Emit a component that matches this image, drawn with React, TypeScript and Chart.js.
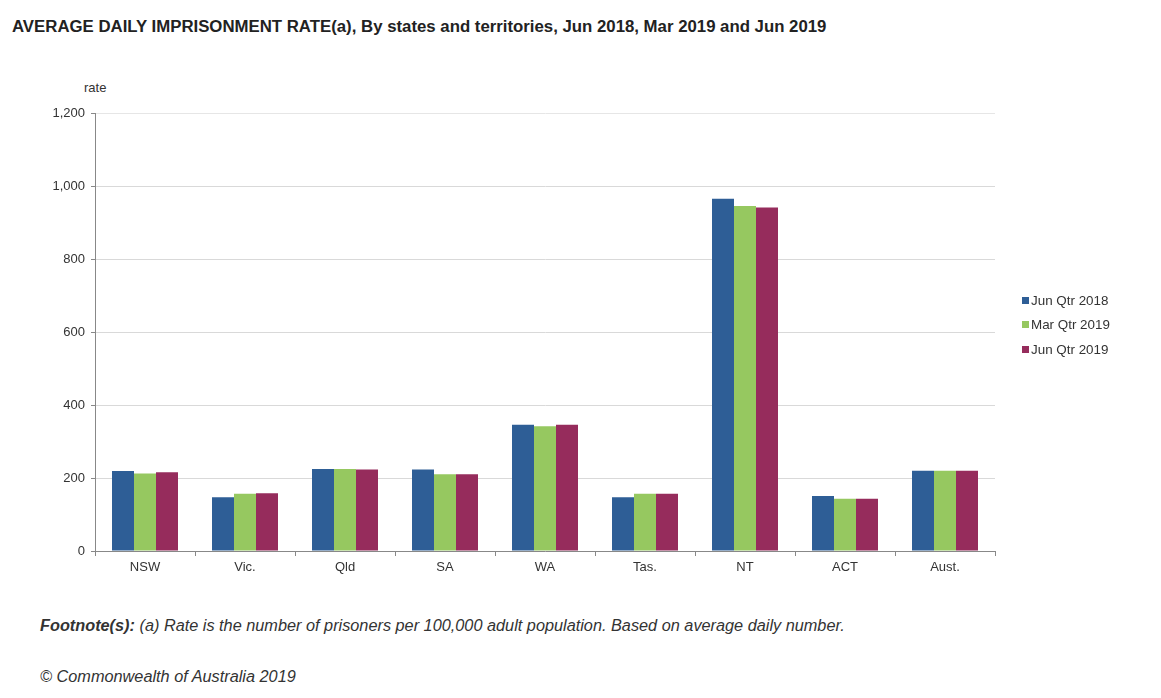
import React, { useEffect, useRef } from "react";
import { Chart, registerables } from "chart.js";

Chart.register(...registerables);

const categories = ["NSW", "Vic.", "Qld", "SA", "WA", "Tas.", "NT", "ACT", "Aust."];
const seriesNames = ["Jun Qtr 2018", "Mar Qtr 2019", "Jun Qtr 2019"];
const jun2018 = [219, 147, 225, 223, 346, 147, 965, 151, 220];
const mar2019 = [212, 157, 225, 210, 342, 157, 945, 143, 220];
const jun2019 = [216, 158, 223, 210, 346, 157, 941, 143, 220];
const seriesColors = ["#2E5E96", "#96C860", "#962C5C"];
const yTicks = [0, 200, 400, 600, 800, 1000, 1200];

const FONT = "'Liberation Sans', Arial, sans-serif";
const TEXT = "#333333";

export default function App() {
  const canvasRef = useRef<HTMLCanvasElement | null>(null);

  useEffect(() => {
    const canvas = canvasRef.current;
    if (!canvas) return;
    const values = [jun2018, mar2019, jun2019];
    const chart = new Chart(canvas, {
      type: "bar",
      data: {
        labels: categories,
        datasets: seriesNames.map((name, i) => ({
          label: name,
          data: values[i],
          backgroundColor: seriesColors[i],
          borderWidth: 0,
          categoryPercentage: 0.66,
          barPercentage: 1.0,
        })),
      },
      options: {
        animation: false,
        responsive: false,
        maintainAspectRatio: false,
        layout: { padding: { left: 0, top: 113, right: 166, bottom: 0 } },
        plugins: {
          legend: { display: false },
          tooltip: { enabled: false },
          title: { display: false },
        },
        scales: {
          x: {
            afterFit: (scale: any) => {
              scale.height = 49;
            },
            grid: {
              offset: true,
              drawOnChartArea: false,
              drawTicks: true,
              tickLength: 5,
              color: "#888888",
            },
            border: { color: "#888888", width: 1 },
            ticks: {
              color: TEXT,
              font: { family: FONT, size: 13 },
              padding: 4,
              maxRotation: 0,
            },
          },
          y: {
            min: 0,
            max: 1200,
            afterFit: (scale: any) => {
              scale.width = 95;
            },
            afterBuildTicks: (scale: any) => {
              scale.ticks = yTicks.map((v) => ({ value: v }));
            },
            grid: {
              color: (ctx: any) => (ctx.tick && ctx.tick.value === 1200 ? "#e6e6e6" : "#d9d9d9"),
              tickColor: "#888888",
              drawTicks: true,
              tickLength: 4,
            },
            border: { color: "#888888", width: 1 },
            ticks: {
              color: TEXT,
              font: { family: FONT, size: 13 },
              padding: 6,
              callback: (v: any) => Number(v).toLocaleString("en-AU"),
            },
          },
        },
      },
    });
    return () => chart.destroy();
  }, []);

  const abs = (left: number, top: number): React.CSSProperties => ({
    position: "absolute",
    left,
    top,
    whiteSpace: "nowrap",
    fontFamily: FONT,
    color: TEXT,
  });

  return (
    <div
      style={{
        position: "absolute",
        left: 0,
        top: 0,
        width: 1161,
        height: 698,
        background: "#ffffff",
        overflow: "hidden",
      }}
    >
      <div style={{ ...abs(12, 17), fontSize: 16.8, fontWeight: "bold", color: "#222" }}>
        AVERAGE DAILY IMPRISONMENT RATE(a), By states and territories, Jun 2018, Mar 2019 and Jun 2019
      </div>
      <div style={{ ...abs(84, 80), fontSize: 13 }}>rate</div>
      <canvas
        ref={canvasRef}
        width={1161}
        height={600}
        style={{ position: "absolute", left: 0, top: 0, width: 1161, height: 600 }}
      />
      <div style={{ ...abs(1022, 288), fontSize: 13.4 }}>
        {seriesNames.map((name, i) => (
          <div key={name} style={{ display: "flex", alignItems: "center", height: 24.5 }}>
            <span
              style={{
                display: "inline-block",
                width: 7,
                height: 7,
                background: seriesColors[i],
                marginRight: 2,
              }}
            />
            <span>{name}</span>
          </div>
        ))}
      </div>
      <div style={{ ...abs(40, 616), fontSize: 16.3, fontStyle: "italic" }}>
        <b>Footnote(s):</b> (a) Rate is the number of prisoners per 100,000 adult population. Based on average daily number.
      </div>
      <div style={{ ...abs(40, 667), fontSize: 16.3, fontStyle: "italic" }}>
        © Commonwealth of Australia 2019
      </div>
    </div>
  );
}
